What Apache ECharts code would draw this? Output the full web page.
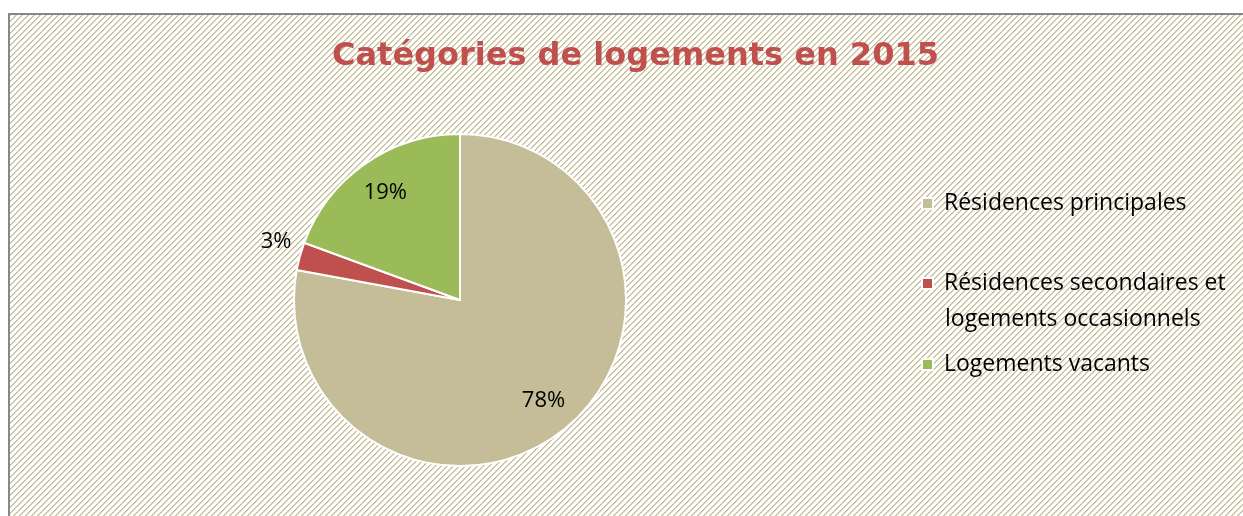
<!DOCTYPE html>
<html>
<head>
<meta charset="utf-8">
<script src="https://cdn.jsdelivr.net/npm/echarts@6/dist/echarts.min.js"></script>
<style>
  html, body { margin: 0; padding: 0; background: #fff; }
  #chart { width: 1243px; height: 516px; }
</style>
</head>
<body>
<div id="chart"></div>
<script>
// data
var categories = ['Résidences principales', 'Résidences secondaires et logements occasionnels', 'Logements vacants'];
var values = [77.9, 2.7, 19.4];
var colors = ['#c4bd97', '#c0504d', '#9bbb59'];
var titleText = 'Catégories de logements en 2015';

// hatch pattern for the chart area
var tile = document.createElement('canvas');
tile.width = 6;
tile.height = 6;
var tctx = tile.getContext('2d');
tctx.fillStyle = '#ffffff';
tctx.fillRect(0, 0, 6, 6);
for (var x = 0; x < 6; x++) {
	for (var y = 0; y < 6; y++) {
		var k = (x + y) % 6;
		if (k == 0) { tctx.fillStyle = '#c4bc94'; tctx.fillRect(x, y, 1, 1); }
		else if (k == 1) { tctx.fillStyle = '#d6d0b4'; tctx.fillRect(x, y, 1, 1); }
	}
}

var chart = echarts.init(document.getElementById('chart'));

var pieData = categories.map(function (c, i) {
	return { name: c, value: values[i], itemStyle: { color: colors[i] } };
});
// label layer (transparent), so inside labels sit further out than half radius
var labelData = categories.map(function (c, i) {
	var d = { name: c, value: values[i], itemStyle: { color: 'rgba(0,0,0,0)' } };
	if (i == 1) d.label = { offset: [-58, -24] };
	return d;
});

var font = '"Open Sans", Lato, sans-serif';
var legendStyle = { fontFamily: font, fontSize: 23, color: '#000', padding: [0, 0, 0, 6] };
// the long legend name wraps: first line beside the square, second line under it
var splitAt = categories[1].indexOf('logements');
var line1 = categories[1].slice(0, splitAt).trim();
var line2 = categories[1].slice(splitAt);

option = {
	backgroundColor: '#ffffff',
	animation: false,
	graphic: [{
		type: 'rect',
		z: -10,
		shape: { x: 9, y: 14, width: 1260, height: 520 },
		style: { fill: { image: tile, repeat: 'repeat' }, stroke: '#878787', lineWidth: 2 }
	}, {
		type: 'text',
		left: 945,
		top: 308,
		style: { text: line2, font: '23px ' + font, fill: '#000' }
	}],
	title: {
		text: titleText,
		left: 327,
		top: 36,
		textStyle: {
			fontFamily: '"DejaVu Sans", Verdana, sans-serif',
			fontWeight: 'bold',
			fontSize: 32,
			color: '#c0504d'
		}
	},
	legend: [0, 1, 2].map(function (i) {
		var tops = [187, 267, 348];
		return {
			data: [categories[i]],
			orient: 'vertical',
			left: 916,
			top: tops[i],
			itemWidth: 11,
			itemHeight: 11,
			itemGap: 0,
			icon: 'rect',
			selectedMode: false,
			formatter: function (n) {
				return n == categories[1] ? line1 : n;
			},
			textStyle: legendStyle
		};
	}),
	series: [{
		type: 'pie',
		center: [460, 300],
		radius: [0, 166],
		startAngle: 90,
		clockwise: true,
		silent: true,
		label: { show: false },
		labelLine: { show: false },
		itemStyle: { borderColor: '#ffffff', borderWidth: 2 },
		data: pieData
	}, {
		type: 'pie',
		center: [460, 300],
		radius: [0, 255],
		startAngle: 90,
		clockwise: true,
		silent: true,
		labelLine: { show: false },
		label: {
			show: true,
			position: 'inside',
			fontFamily: font,
			fontSize: 22,
			color: '#000',
			formatter: function (p) { return Math.round(p.value) + '%'; }
		},
		data: labelData
	}]
};

chart.setOption(option);
</script>
</body>
</html>
